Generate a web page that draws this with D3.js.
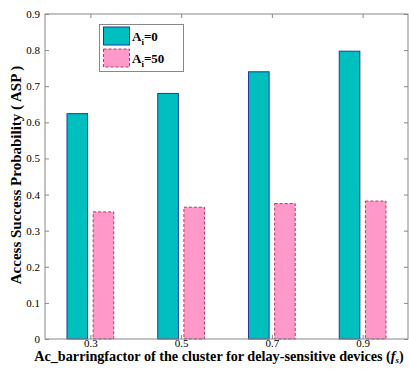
<!DOCTYPE html>
<html><head><meta charset="utf-8">
<script src="https://cdn.jsdelivr.net/npm/d3@7"></script>
<style>body{margin:0;background:#fff}svg{display:block}</style>
</head><body>
<script>
const categories = ["0.3","0.5","0.7","0.9"];
const seriesNames = ["0","50"];
const asp0 = [0.624, 0.680, 0.740, 0.797];
const asp50 = [0.352, 0.365, 0.375, 0.382];
const yTicks = [0,0.1,0.2,0.3,0.4,0.5,0.6,0.7,0.8,0.9];

const FONT="'Liberation Serif', 'Times New Roman', Times, serif";
const W=409,H=369;
const m={l:45,r:1,t:14,b:30};
const svg=d3.select("body").append("svg").attr("width",W).attr("height",H).attr("font-family",FONT);
const x=d3.scaleLinear().domain([0.5,categories.length+0.5]).range([m.l,W-m.r]);
const y=d3.scaleLinear().domain([0,0.9]).range([H-m.b,m.t]);
const barW=0.227, off=0.144;
const series=[
 {vals:asp0, fill:"#00bfbf", stroke:"#1c3a9e", dash:null, o:-off},
 {vals:asp50, fill:"#ff99c9", stroke:"#b53a58", dash:"3,2", o:off}
];
series.forEach(s=>{
  svg.append("g").selectAll("rect").data(s.vals).join("rect")
    .attr("x",(d,i)=>x(i+1+s.o-barW/2)).attr("width",x(barW)-x(0))
    .attr("y",d=>y(d)).attr("height",d=>y(0)-y(d))
    .attr("fill",s.fill).attr("stroke",s.stroke).attr("stroke-width",1)
    .attr("stroke-dasharray",s.dash);
});
const axc="#888";
svg.append("rect").attr("x",x(0.5)).attr("y",y(0.9)).attr("width",x(4.5)-x(0.5)).attr("height",y(0)-y(0.9))
 .attr("fill","none").attr("stroke",axc).attr("stroke-width",1);
const ya=svg.append("g").attr("transform",`translate(${x(0.5)},0)`)
 .call(d3.axisLeft(y).tickValues(yTicks).tickSize(-4).tickPadding(5).tickFormat(d=>d===0?"0":d3.format(".1f")(d)));
const yr=svg.append("g").attr("transform",`translate(${x(4.5)},0)`)
 .call(d3.axisRight(y).tickValues(yTicks).tickSize(-4).tickFormat(""));
const xa=svg.append("g").attr("transform",`translate(0,${y(0)})`)
 .call(d3.axisBottom(x).tickValues([1,2,3,4]).tickSize(-4).tickPadding(0).tickFormat((d,i)=>categories[i]));
const xt=svg.append("g").attr("transform",`translate(0,${y(0.9)})`)
 .call(d3.axisTop(x).tickValues([1,2,3,4]).tickSize(-4).tickFormat(""));
[ya,yr,xa,xt].forEach(g=>{g.attr("font-family",FONT);g.select(".domain").remove();g.selectAll("line").attr("stroke",axc);
 g.selectAll("text").attr("font-size",11).attr("fill","#000");});
svg.append("text").attr("transform",`translate(21,175) rotate(-90)`)
 .attr("text-anchor","middle").attr("font-weight","bold").attr("font-size",15)
 .text("Access Success Probability ( ASP )");
const xtitle=svg.append("text").attr("x",219).attr("y",361).attr("text-anchor","middle")
 .attr("font-weight","bold").attr("font-size",14.2);
xtitle.append("tspan").text("Ac_barringfactor of the cluster for delay-sensitive devices (");
xtitle.append("tspan").attr("font-style","italic").text("f");
xtitle.append("tspan").attr("font-style","italic").attr("font-size",9).attr("dy",2).text("s");
xtitle.append("tspan").attr("dy",-2).text(")");
const lg=svg.append("g");
lg.append("rect").attr("x",99.5).attr("y",24.5).attr("width",84).attr("height",47).attr("fill","#fff").attr("stroke",axc);
series.forEach((s,i)=>{
  const yy=27+i*22;
  lg.append("rect").attr("x",103.5).attr("y",yy).attr("width",26).attr("height",18)
   .attr("fill",s.fill).attr("stroke",s.stroke).attr("stroke-dasharray",s.dash);
  const t=lg.append("text").attr("x",132).attr("y",yy+14).attr("font-weight","bold").attr("font-size",13);
  t.append("tspan").text("A");
  t.append("tspan").attr("font-size",9).attr("dy",4).text("i");
  t.append("tspan").attr("dy",-4).text("="+seriesNames[i]);
});
</script>
</body></html>
